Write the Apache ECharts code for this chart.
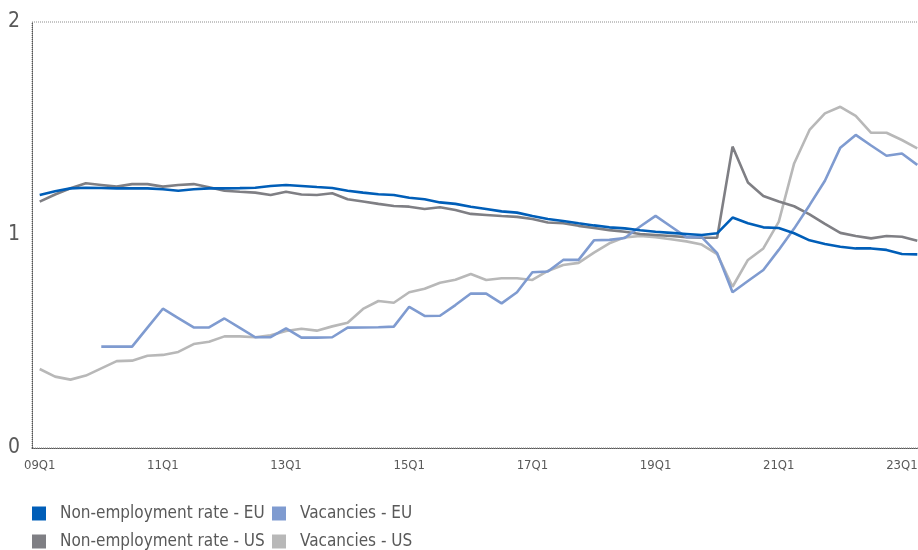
<!DOCTYPE html>
<html>
<head>
<meta charset="utf-8">
<script src="https://cdn.jsdelivr.net/npm/echarts@6/dist/echarts.min.js"></script>
<style>html,body{margin:0;padding:0;background:#fff}#c{width:918px;height:550px}</style>
</head>
<body>
<div id="c"></div>
<script>
var quarters = ['09Q1','09Q2','09Q3','09Q4','10Q1','10Q2','10Q3','10Q4','11Q1','11Q2','11Q3','11Q4',
'12Q1','12Q2','12Q3','12Q4','13Q1','13Q2','13Q3','13Q4','14Q1','14Q2','14Q3','14Q4',
'15Q1','15Q2','15Q3','15Q4','16Q1','16Q2','16Q3','16Q4','17Q1','17Q2','17Q3','17Q4',
'18Q1','18Q2','18Q3','18Q4','19Q1','19Q2','19Q3','19Q4','20Q1','20Q2','20Q3','20Q4',
'21Q1','21Q2','21Q3','21Q4','22Q1','22Q2','22Q3','22Q4','23Q1','23Q2'];

var nonEmpEU = [1.188,1.205,1.219,1.222,1.221,1.219,1.219,1.219,1.215,1.208,1.215,1.219,
1.219,1.220,1.222,1.230,1.235,1.230,1.225,1.221,1.208,1.199,1.191,1.188,
1.175,1.168,1.153,1.146,1.133,1.122,1.111,1.105,1.089,1.075,1.066,1.055,
1.045,1.036,1.031,1.022,1.015,1.010,1.005,1.000,1.008,1.082,1.055,1.036,
1.033,1.008,0.975,0.958,0.945,0.937,0.937,0.930,0.911,0.909];

var nonEmpUS = [1.157,1.190,1.219,1.243,1.235,1.227,1.239,1.239,1.227,1.235,1.239,1.224,
1.208,1.203,1.199,1.188,1.203,1.190,1.188,1.196,1.168,1.157,1.146,1.136,
1.133,1.122,1.130,1.117,1.099,1.094,1.089,1.085,1.075,1.059,1.055,1.043,
1.033,1.023,1.015,1.005,1.000,0.995,0.990,0.987,0.987,1.415,1.246,1.183,
1.157,1.135,1.097,1.052,1.010,0.995,0.984,0.995,0.992,0.973];

var vacEU = [null,null,null,null,0.476,0.476,0.476,0.565,0.654,0.610,0.566,0.566,
0.608,0.564,0.520,0.520,0.562,0.518,0.518,0.520,0.565,0.566,0.567,0.570,
0.663,0.620,0.621,0.671,0.725,0.725,0.679,0.731,0.825,0.829,0.883,0.883,
0.975,0.977,0.986,1.040,1.090,1.040,0.990,0.990,0.915,0.731,0.784,0.836,
0.930,1.030,1.140,1.255,1.410,1.470,1.420,1.372,1.383,1.329];

var vacUS = [0.371,0.335,0.321,0.340,0.374,0.408,0.410,0.433,0.437,0.451,0.488,0.499,
0.524,0.524,0.520,0.529,0.549,0.560,0.551,0.571,0.588,0.653,0.690,0.682,
0.731,0.748,0.776,0.790,0.817,0.789,0.797,0.797,0.789,0.831,0.859,0.869,
0.917,0.961,0.989,0.995,0.990,0.980,0.970,0.955,0.910,0.757,0.883,0.937,
1.062,1.336,1.493,1.571,1.602,1.559,1.480,1.480,1.446,1.407];

var yTicks = [0, 1, 2];

var FONT = "'Liberation Sans Narrow','DejaVu Sans Condensed','Noto Sans',sans-serif";
var TXT = '#595959';
var colors = {
  nEU: '#005EB8',
  nUS: '#7F7F84',
  vEU: '#7F9BD0',
  vUS: '#B8B8B8'
};
var names = {
  nEU: 'Non-employment rate - EU',
  nUS: 'Non-employment rate - US',
  vEU: 'Vacancies - EU',
  vUS: 'Vacancies - US'
};

function leg(name, left, top) {
  return {
    data: [name], left: left, top: top, orient: 'horizontal',
    icon: 'rect', itemWidth: 14, itemHeight: 14, padding: 0,
    selectedMode: false,
    textStyle: { fontFamily: FONT, fontSize: 17, color: TXT, padding: [0, 0, 0, 9] }
  };
}

function line(key, data, z) {
  return {
    name: names[key], type: 'line', data: data, symbol: 'none',
    lineStyle: { color: colors[key], width: 2.6 }, itemStyle: { color: colors[key] },
    connectNulls: false, z: z, animation: false
  };
}

var chart = echarts.init(document.getElementById('c'), null, { renderer: 'canvas' });
chart.setOption({
  animation: false,
  grid: {
    left: 32, width: 893, top: 22, height: 426,
    outerBoundsMode: 'none', containLabel: false,
    show: true, borderColor: '#8c8c8c', borderWidth: 1, borderType: 'dotted', backgroundColor: 'transparent'
  },
  legend: [
    leg(names.nEU, 32, 505),
    leg(names.vEU, 272, 505),
    leg(names.nUS, 32, 533),
    leg(names.vUS, 272, 533)
  ],
  xAxis: {
    type: 'category', data: quarters, boundaryGap: true,
    axisLine: { show: true, lineStyle: { color: '#555', type: 'dotted', width: 1 } },
    axisTick: { show: false },
    splitLine: { show: false },
    axisLabel: { interval: 7, color: TXT, fontFamily: FONT, fontSize: 13, margin: 11 }
  },
  yAxis: {
    type: 'value', min: yTicks[0], max: yTicks[yTicks.length - 1], interval: 1,
    axisLine: { show: true, lineStyle: { color: '#555', type: 'dotted', width: 1 } },
    axisTick: { show: false },
    splitLine: { show: false },
    axisLabel: { color: TXT, fontFamily: FONT, fontSize: 21, margin: 12 }
  },
  series: [
    line('vUS', vacUS, 1),
    line('nUS', nonEmpUS, 2),
    line('vEU', vacEU, 3),
    line('nEU', nonEmpEU, 4)
  ]
});
</script>
</body>
</html>
